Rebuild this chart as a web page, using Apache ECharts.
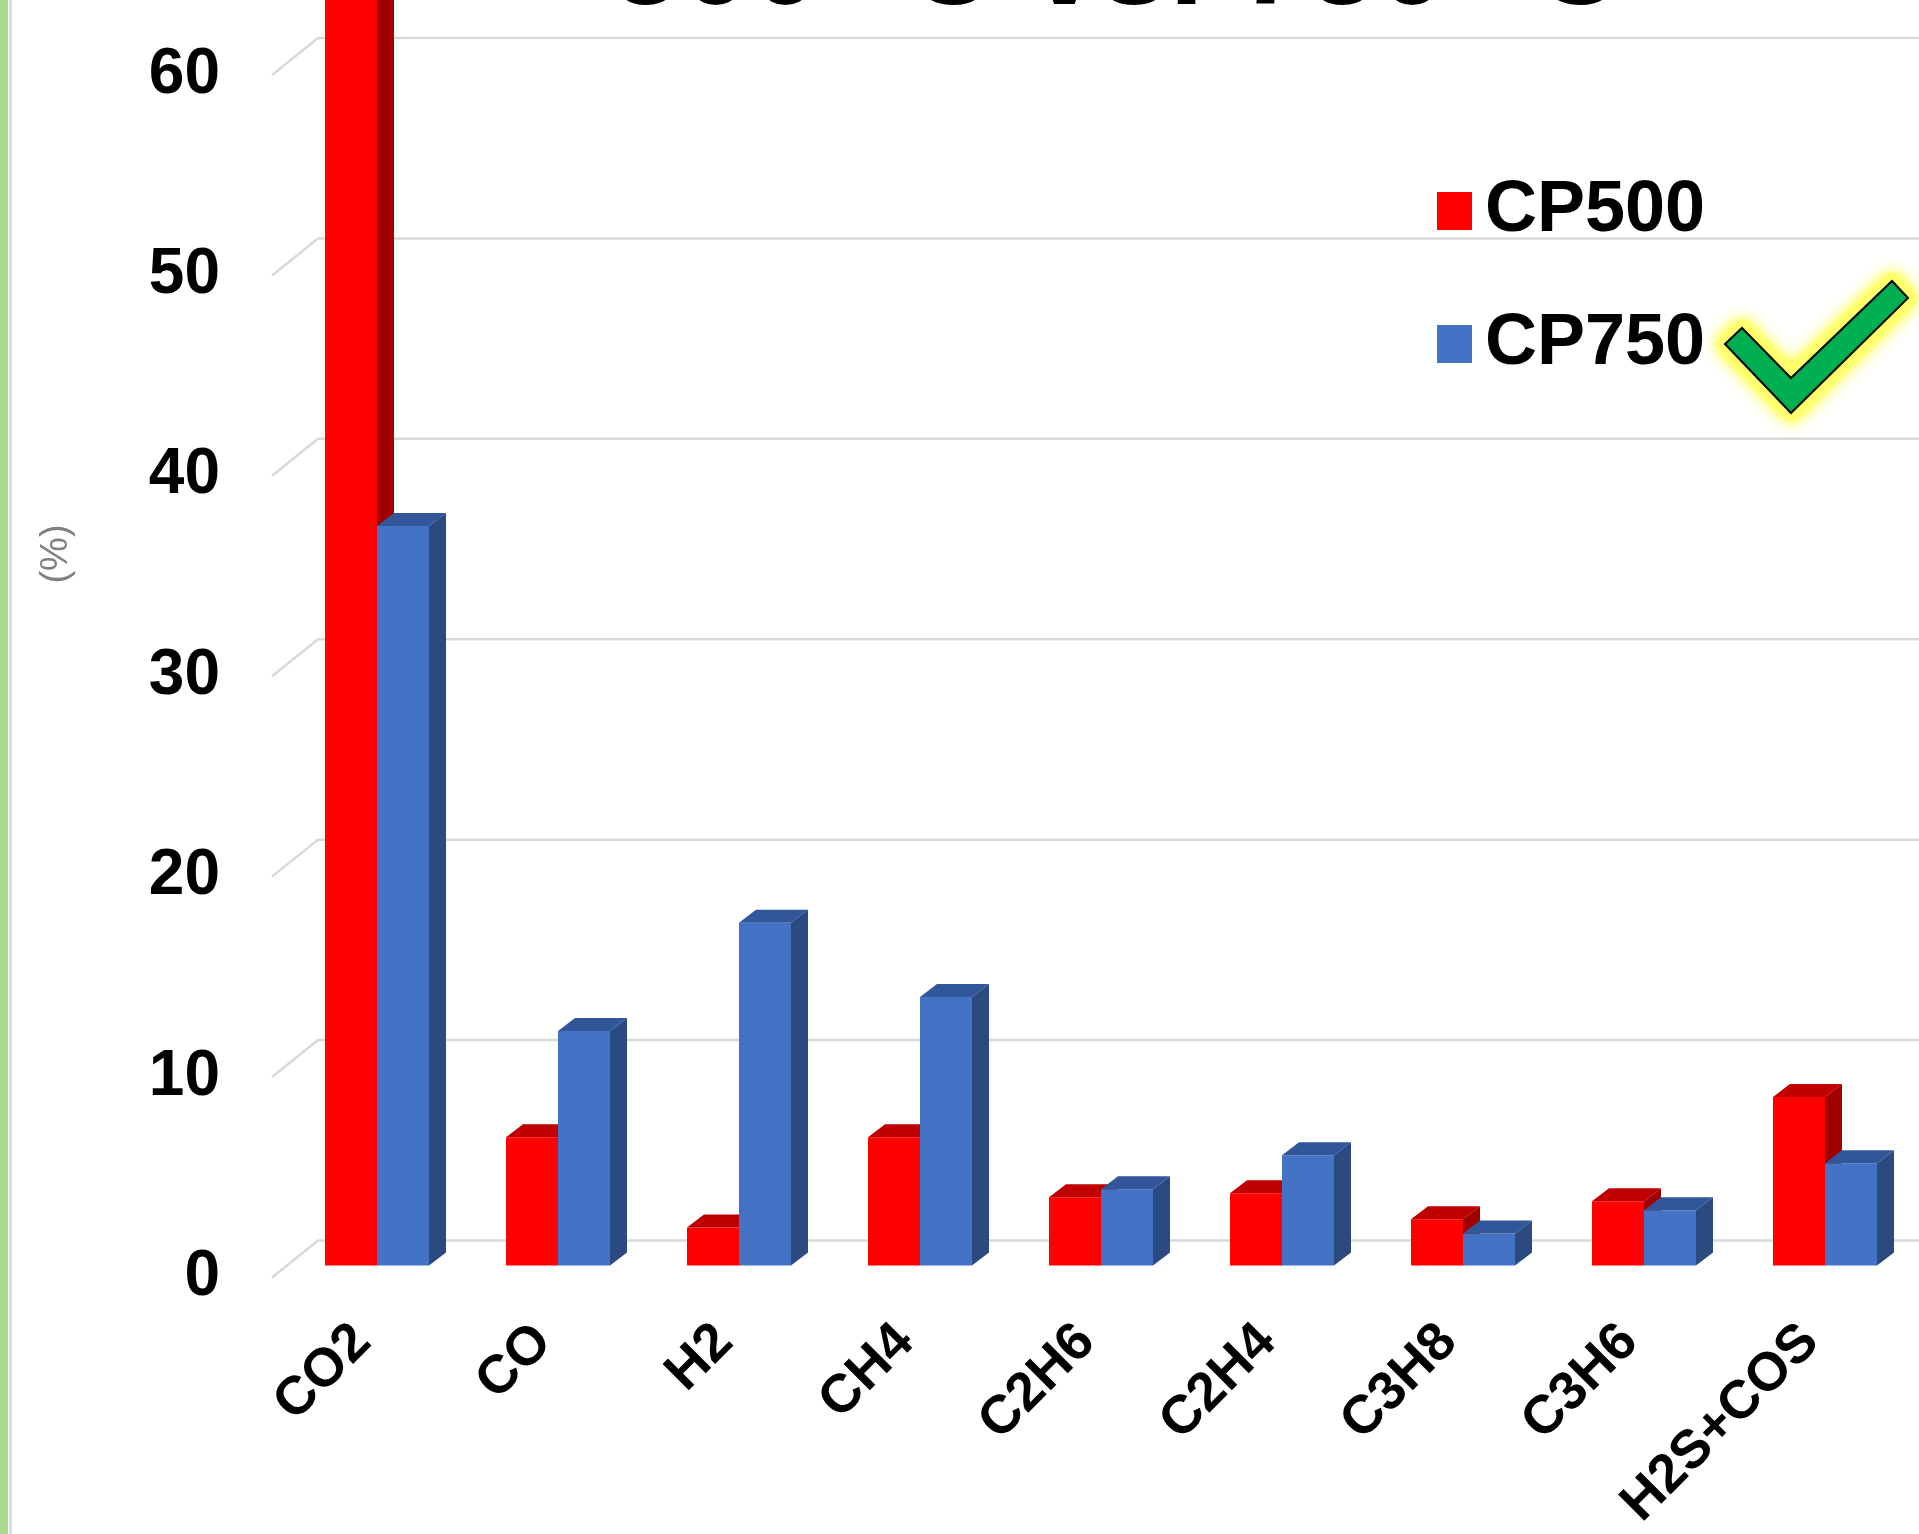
<!DOCTYPE html>
<html>
<head>
<meta charset="utf-8">
<title>CP500 vs CP750 gas composition</title>
<script src="https://cdn.jsdelivr.net/npm/echarts@6/dist/echarts.min.js"></script>
<style>
  html, body { margin: 0; padding: 0; background: #ffffff; }
  #chart { width: 1919px; height: 1534px; }
</style>
</head>
<body>
<div id="chart"></div>
<script>
// Gas species on the category axis
const categories = ['CO2', 'CO', 'H2', 'CH4', 'C2H6', 'C2H4', 'C3H8', 'C3H6', 'H2S+COS'];
// Composition (%) for each pyrolysis temperature; the CO2 bar at 500 °C runs past the top of the frame
const cp500 = [65, 6.4, 1.9, 6.4, 3.4, 3.6, 2.3, 3.2, 8.4];
const cp750 = [36.9, 11.7, 17.1, 13.4, 3.8, 5.5, 1.6, 2.75, 5.1];
// Value-axis ticks
const yTicks = [0, 10, 20, 30, 40, 50, 60];
const seriesNames = ['CP500', 'CP750'];

// Oblique projection used for the 3-D look (pixels)
const FLOOR_DX = 46, FLOOR_DY = -37;   // full depth of the floor / side wall
const BAR_DX0 = 14.5, BAR_DY0 = -12;   // bar front plane relative to the floor front edge
const BAR_DX = 17, BAR_DY = -13;       // bar depth
const BAR_FRAC = 52 / 181;             // bar width as share of category band

const faces = [
  { front: '#FF0000', top: '#C00000', side: '#A00000' },
  { front: '#4472C4', top: '#32569A', side: '#2A4A80' }
];

function barRenderer(s) {
  return function (params, api) {
    const cat = api.value(0);
    const v = api.value(1);
    const base = api.coord([cat, 0]);
    const tip = api.coord([cat, v]);
    const band = api.size([1, 0])[0];
    const w = band * BAR_FRAC;
    const x0 = base[0] + BAR_DX0 - w + s * w;
    const x1 = x0 + w;
    const yb = base[1] + BAR_DY0;
    const yt = tip[1] + BAR_DY0;
    const c = faces[s];
    return {
      type: 'group',
      children: [
        { type: 'rect', shape: { x: x0, y: yt, width: w, height: yb - yt },
          style: { fill: c.front } },
        { type: 'polygon', shape: { points: [[x0, yt], [x1, yt], [x1 + BAR_DX, yt + BAR_DY], [x0 + BAR_DX, yt + BAR_DY]] },
          style: { fill: c.top } },
        { type: 'polygon', shape: { points: [[x1, yt], [x1 + BAR_DX, yt + BAR_DY], [x1 + BAR_DX, yb + BAR_DY], [x1, yb]] },
          style: { fill: c.side } }
      ]
    };
  };
}

// Side-wall and back-wall gridlines, one polyline per tick value
function wallRenderer(params, api) {
  const y = api.coord([0, api.value(1)])[1];
  const left = params.coordSys.x;
  const right = api.getWidth();
  return {
    type: 'polyline',
    shape: { points: [[left, y], [left + FLOOR_DX, y + FLOOR_DY], [right, y + FLOOR_DY]] },
    style: { stroke: '#D9D9D9', lineWidth: 2.5, fill: null }
  };
}

const chart = echarts.init(document.getElementById('chart'), null, { renderer: 'canvas' });

// Check mark shape beside the legend
const tick = [[1725, 344], [1742, 328], [1791, 378], [1892, 281], [1908, 298], [1791, 413]];

const option = {
  backgroundColor: '#ffffff',
  animation: false,
  grid: { left: 272, right: 18, top: 75, bottom: 253, containLabel: false },
  legend: {
    data: seriesNames,
    orient: 'vertical',
    left: 1432,
    top: 166,
    icon: 'rect',
    itemWidth: 35,
    itemHeight: 38,
    itemGap: 53,
    selectedMode: false,
    textStyle: {
      fontFamily: '"Liberation Sans", Arial, sans-serif',
      fontWeight: 'bold',
      fontSize: 72,
      lineHeight: 80,
      color: '#000000',
      padding: [0, 0, 0, 8]
    }
  },
  xAxis: {
    type: 'category',
    data: categories,
    axisLine: { show: false },
    axisTick: { show: false },
    splitLine: { show: false },
    axisLabel: {
      interval: 0,
      rotate: 45,
      margin: 56,
      fontFamily: '"Liberation Sans", Arial, sans-serif',
      fontWeight: 'bold',
      fontSize: 54,
      color: '#000000'
    }
  },
  yAxis: {
    type: 'value',
    min: 0,
    max: 60,
    interval: 10,
    axisLine: { show: false },
    axisTick: { show: false },
    splitLine: { show: false },
    axisLabel: {
      margin: 52,
      fontFamily: '"Liberation Sans", Arial, sans-serif',
      fontWeight: 'bold',
      fontSize: 64,
      color: '#000000'
    }
  },
  series: [
    {
      name: 'walls',
      type: 'custom',
      silent: true,
      clip: false,
      renderItem: wallRenderer,
      data: yTicks.map(function (t) { return [0, t]; }),
      z: 1
    },
    {
      name: seriesNames[0],
      type: 'custom',
      clip: false,
      itemStyle: { color: faces[0].front },
      renderItem: barRenderer(0),
      data: cp500.map(function (v, i) { return [i, v]; }),
      z: 2
    },
    {
      name: seriesNames[1],
      type: 'custom',
      clip: false,
      itemStyle: { color: faces[1].front },
      renderItem: barRenderer(1),
      data: cp750.map(function (v, i) { return [i, v]; }),
      z: 3
    }
  ],
  graphic: [
    // slide frame on the left
    { type: 'rect', left: 0, top: 0, shape: { width: 8, height: 1534 }, style: { fill: '#A9D891' }, z: 10 },
    { type: 'rect', left: 9, top: 0, shape: { width: 3, height: 1534 }, style: { fill: '#DDDDDD' }, z: 10 },
    // title, running off the top edge
    {
      type: 'text', x: 1117, y: 32, z: 10,
      style: {
        text: '500 °C vs. 750 °C',
        fontFamily: '"Liberation Sans", Arial, sans-serif',
        fontWeight: 'bold',
        fontSize: 125,
        fill: '#000000',
        align: 'center',
        verticalAlign: 'bottom'
      }
    },
    // value-axis unit
    {
      type: 'text', x: 57, y: 554, rotation: Math.PI / 2, z: 10,
      style: {
        text: '(%)',
        fontFamily: '"Liberation Sans", Arial, sans-serif',
        fontSize: 38,
        fill: '#808080',
        align: 'center',
        verticalAlign: 'middle'
      }
    },
    // highlighted check mark
    {
      type: 'polygon', z: 10,
      shape: { points: tick },
      style: { fill: '#FFFF70', stroke: '#FFFF70', lineWidth: 18, lineJoin: 'round', shadowBlur: 16, shadowColor: '#FFFF00', opacity: 0.9 }
    },
    {
      type: 'polygon', z: 11,
      shape: { points: tick },
      style: { fill: '#00B050', stroke: '#000000', lineWidth: 2, lineJoin: 'miter' }
    }
  ]
};

chart.setOption(option);
</script>
</body>
</html>
